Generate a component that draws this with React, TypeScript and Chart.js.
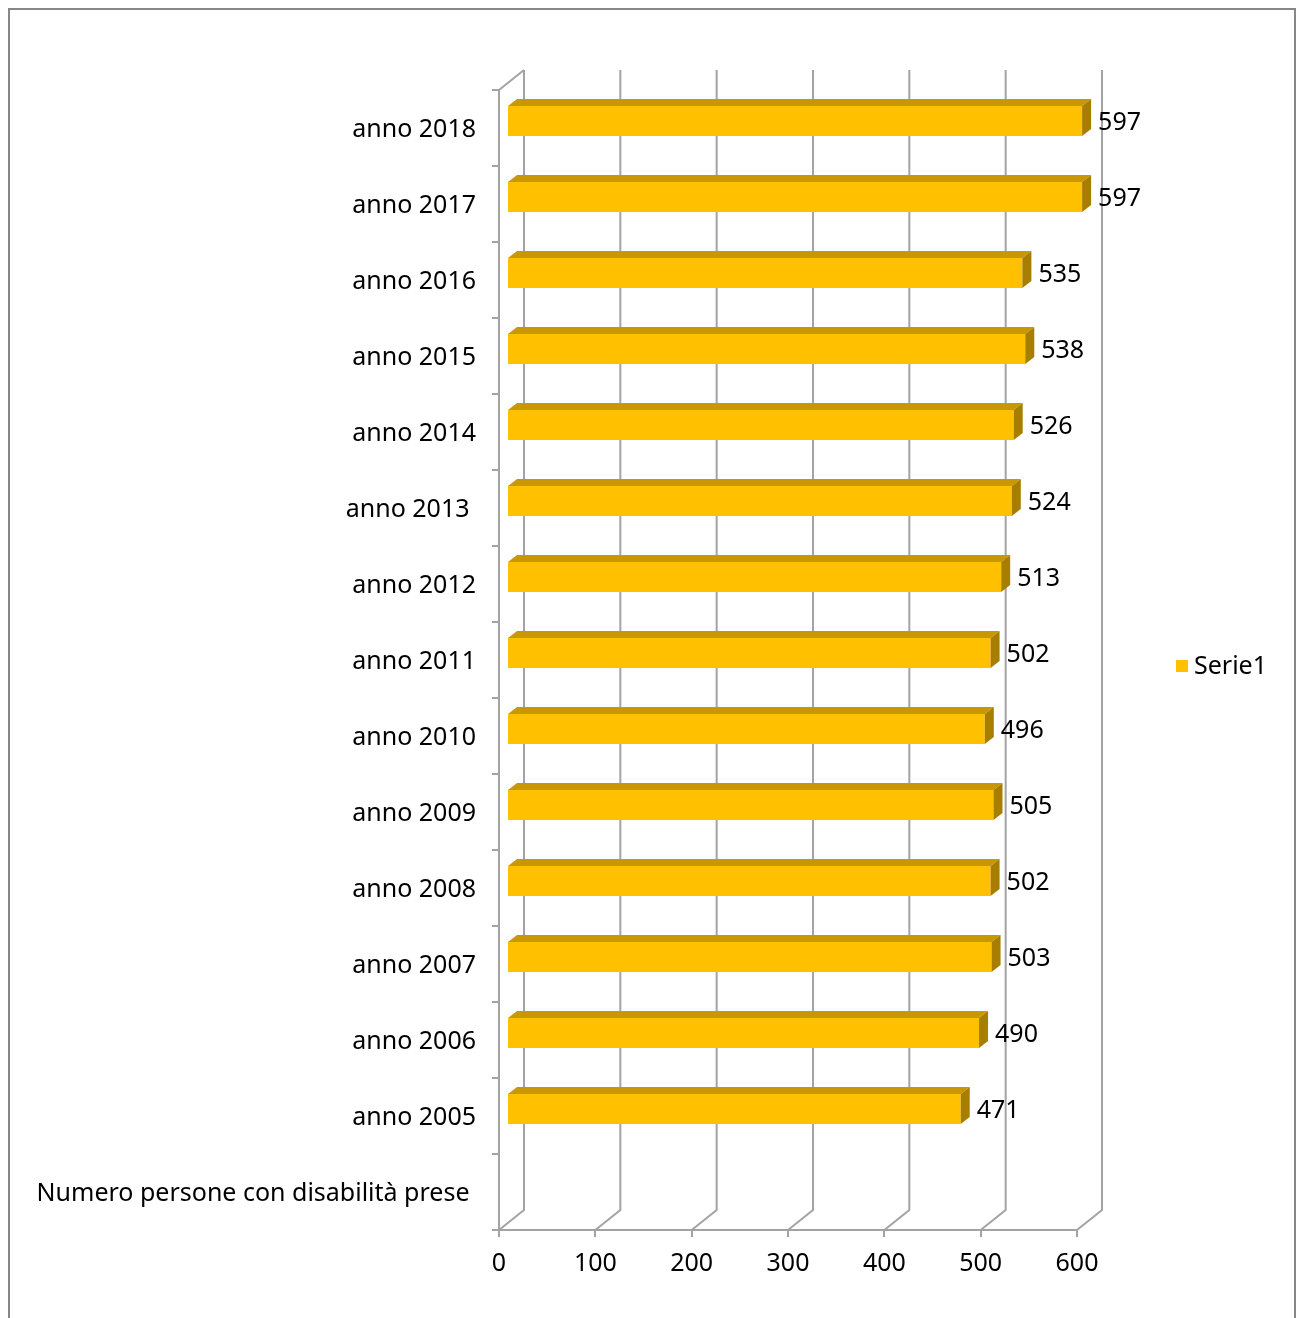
import React, { useEffect, useRef } from "react";
import { Chart, registerables } from "chart.js";

Chart.register(...registerables);

const categories: string[] = [
  "anno 2018",
  "anno 2017",
  "anno 2016",
  "anno 2015",
  "anno 2014",
  "anno 2013 ",
  "anno 2012",
  "anno 2011",
  "anno 2010",
  "anno 2009",
  "anno 2008",
  "anno 2007",
  "anno 2006",
  "anno 2005",
  "Numero persone con disabilità prese ",
];

const serieValues: (number | null)[] = [
  597, 597, 535, 538, 526, 524, 513, 502, 496, 505, 502, 503, 490, 471, null,
];

const seriesName = "Serie1";
const xMin = 0;
const xMax = 600;
const xStep = 100;

const FONT = "'Noto Sans', 'DejaVu Sans', sans-serif";
const FONT_SIZE = 25;
const BAR_FRONT = "#FFC000";
const BAR_TOP = "#C99700";
const BAR_SIDE = "#A87E00";
const GRID = "#A3A3A3";

// depth offsets
const BAR_SHIFT_X = 8;
const BAR_SHIFT_Y = -7;
const BAR_DEPTH_X = 9;
const BAR_DEPTH_Y = -7;
const WALL_X = 25;
const WALL_Y = -20;

const threeD = {
  id: "threeD",
  beforeDatasetsDraw(chart: any) {
    const ctx = chart.ctx;
    const xs = chart.scales.x;
    const area = chart.chartArea;
    ctx.save();
    ctx.strokeStyle = GRID;
    ctx.lineWidth = 2;
    ctx.beginPath();
    for (let v = xMin; v <= xMax; v += xStep) {
      const px = xs.getPixelForValue(v);
      ctx.moveTo(px, area.bottom);
      ctx.lineTo(px + WALL_X, area.bottom + WALL_Y);
      ctx.lineTo(px + WALL_X, area.top + WALL_Y);
    }
    ctx.moveTo(area.left, area.top);
    ctx.lineTo(area.left + WALL_X, area.top + WALL_Y);
    ctx.stroke();
    ctx.restore();
  },
  beforeDatasetDraw(chart: any) {
    chart.ctx.save();
    chart.ctx.translate(BAR_SHIFT_X, BAR_SHIFT_Y);
  },
  afterDatasetDraw(chart: any, args: any) {
    const ctx = chart.ctx;
    const meta = args.meta;
    meta.data.forEach((el: any, i: number) => {
      const v = chart.data.datasets[args.index].data[i];
      if (v === null || v === undefined) return;
      const p = el.getProps(["x", "y", "base", "height"], true);
      const left = p.base;
      const right = p.x;
      const top = p.y - p.height / 2;
      const bottom = p.y + p.height / 2;
      ctx.fillStyle = BAR_TOP;
      ctx.beginPath();
      ctx.moveTo(left, top);
      ctx.lineTo(left + BAR_DEPTH_X, top + BAR_DEPTH_Y);
      ctx.lineTo(right + BAR_DEPTH_X, top + BAR_DEPTH_Y);
      ctx.lineTo(right, top);
      ctx.closePath();
      ctx.fill();
      ctx.fillStyle = BAR_SIDE;
      ctx.beginPath();
      ctx.moveTo(right, top);
      ctx.lineTo(right + BAR_DEPTH_X, top + BAR_DEPTH_Y);
      ctx.lineTo(right + BAR_DEPTH_X, bottom + BAR_DEPTH_Y);
      ctx.lineTo(right, bottom);
      ctx.closePath();
      ctx.fill();
      ctx.fillStyle = "#000";
      ctx.font = `${FONT_SIZE}px ${FONT}`;
      ctx.textAlign = "left";
      ctx.textBaseline = "middle";
      ctx.fillText(String(v), right + 16, p.y + 2);
    });
    ctx.restore();
  },
  afterDraw(chart: any) {
    const ctx = chart.ctx;
    ctx.save();
    const ly = 666;
    ctx.fillStyle = BAR_FRONT;
    ctx.fillRect(1176, ly - 6, 12, 12);
    ctx.fillStyle = "#000";
    ctx.font = `${FONT_SIZE}px ${FONT}`;
    ctx.textAlign = "left";
    ctx.textBaseline = "middle";
    ctx.fillText(seriesName, 1194, ly + 1);
    ctx.strokeStyle = "#878787";
    ctx.lineWidth = 2;
    ctx.strokeRect(9, 9, 1286, 1400);
    ctx.restore();
  },
};

export default function App() {
  const ref = useRef<HTMLCanvasElement | null>(null);
  useEffect(() => {
    if (!ref.current) return;
    const chart = new Chart(ref.current, {
      type: "bar",
      data: {
        labels: categories,
        datasets: [
          {
            label: seriesName,
            data: serieValues as any,
            backgroundColor: BAR_FRONT,
            borderWidth: 0,
            categoryPercentage: 0.8,
            barPercentage: 30 / (76 * 0.8),
            clip: false as any,
          },
        ],
      },
      options: {
        indexAxis: "y",
        responsive: false,
        animation: false,
        devicePixelRatio: 1,
        layout: { padding: { left: 0, right: 219, top: 90, bottom: 0 } },
        plugins: {
          legend: { display: false },
          tooltip: { enabled: false },
        },
        scales: {
          x: {
            type: "linear",
            min: xMin,
            max: xMax,
            ticks: {
              stepSize: xStep,
              color: "#000",
              font: { family: FONT, size: FONT_SIZE },
              padding: 12,
            },
            grid: {
              drawOnChartArea: false,
              tickLength: 7,
              color: GRID,
              lineWidth: 2,
            },
            border: { color: GRID, width: 2 },
            afterFit: (s: any) => {
              s.height = 88;
            },
          },
          y: {
            type: "category",
            ticks: {
              color: "#000",
              font: { family: FONT, size: FONT_SIZE },
              padding: 16,
              autoSkip: false,
              labelOffset: 2,
            },
            grid: {
              offset: true,
              drawOnChartArea: false,
              tickLength: 7,
              color: GRID,
              lineWidth: 2,
            },
            border: { color: GRID, width: 2 },
            afterFit: (s: any) => {
              s.width = 499;
            },
          },
        },
      },
      plugins: [threeD],
    });
    return () => chart.destroy();
  }, []);
  return (
    <div style={{ position: "absolute", left: 0, top: 0, width: 1296, height: 1318, background: "#fff" }}>
      <canvas ref={ref} width={1296} height={1318} style={{ width: 1296, height: 1318, display: "block" }} />
    </div>
  );
}
